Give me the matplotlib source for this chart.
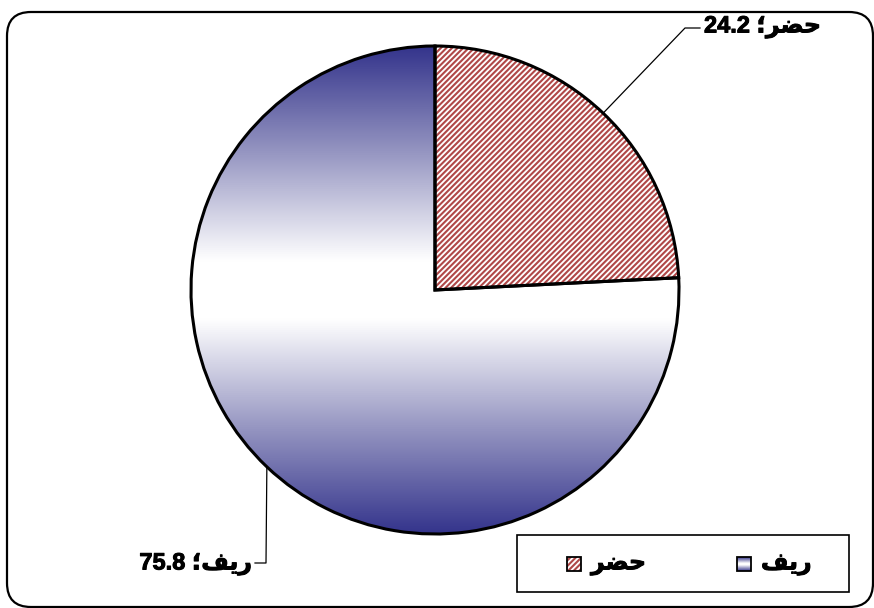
import numpy as np
import matplotlib.pyplot as plt
import matplotlib.patheffects as pe
from matplotlib.colors import LinearSegmentedColormap
from matplotlib.patches import FancyBboxPatch, Rectangle

# ------------------------
# Data
# ------------------------
categories = ["حضر", "ريف"]
values = [24.2, 75.8]
# Arabic shaped for display (presentation forms, visual order)
shaped = {"حضر": "\uFEAE\uFEC0\uFEA3", "ريف": "\uFED2\uFEF3\uFEAD"}

W, H = 874, 608
hatch_red = "#b04848"
navy = "#34348c"
fonts = ["Liberation Sans", "DejaVu Sans"]
plt.rcParams["hatch.linewidth"] = 1.5
heavy = [pe.withStroke(linewidth=0.7, foreground="black")]

fig = plt.figure(figsize=(W / 100, H / 100), dpi=100)
ax = fig.add_axes([0, 0, 1, 1])

cx, cy, r = 435, H - 290, 244

grad_cmap = LinearSegmentedColormap.from_list(
    "g", [(0.0, navy), (0.2, "#8e8ebd"), (0.44, "white"), (0.56, "white"),
          (0.8, "#8e8ebd"), (1.0, navy)])

# fills
wedges, _ = ax.pie(values, startangle=90, counterclock=False,
                   center=(cx, cy), radius=r,
                   colors=["white", "none"],
                   wedgeprops=dict(linewidth=0))
wedges[0].set_hatch("//////")
wedges[0].set_edgecolor(hatch_red)

grad = np.linspace(0, 1, 256).reshape(-1, 1)
im = ax.imshow(grad, cmap=grad_cmap, extent=(cx - r, cx + r, cy - r, cy + r),
               origin="upper", aspect="auto", zorder=1)
im.set_clip_path(wedges[1])

# outlines
outl, _ = ax.pie(values, startangle=90, counterclock=False,
                 center=(cx, cy), radius=r, colors=["none", "none"],
                 wedgeprops=dict(edgecolor="black", linewidth=2.2))
for w in outl:
    w.set_zorder(3)

# labels with leader lines
label_pos = [((685, 28), (700, 28), (704, 27), "left"),
             ((266, 563), (255, 563), (252, 564), "right")]
for w, cat, val, (bend, end, tpos, ha) in zip(wedges, categories, values, label_pos):
    ang = np.deg2rad((w.theta1 + w.theta2) / 2)
    sx, sy = cx + r * np.cos(ang), cy + r * np.sin(ang)
    ax.plot([sx, bend[0], end[0]], [sy, H - bend[1], H - end[1]],
            color="black", lw=0.9, zorder=4)
    ax.text(tpos[0], H - tpos[1], f"{val} \u061B{shaped[cat]}", ha=ha, va="center",
            fontsize=17, fontweight="bold", family=fonts, zorder=5,
            path_effects=heavy)

# legend box
ax.add_patch(Rectangle((517, H - 592), 332, 57, fill=False, edgecolor="black",
                       lw=1.2, zorder=5))
leg_x = {"حضر": 567, "ريف": 737}
for cat in categories:
    x0 = leg_x[cat]
    y0 = H - 571
    if cat == "حضر":
        ax.add_patch(Rectangle((x0, y0), 14, 14, facecolor="white",
                               edgecolor=hatch_red, hatch="//////", lw=0, zorder=5))
    else:
        ax.imshow(grad, cmap=grad_cmap, vmin=0, vmax=1,
                  extent=(x0, x0 + 14, y0, y0 + 14), aspect="auto", zorder=5)
    ax.add_patch(Rectangle((x0, y0), 14, 14, fill=False, edgecolor="black",
                           lw=1.3, zorder=6))
    ax.text(x0 + 24, y0 + 7, shaped[cat], ha="left", va="center",
            fontsize=17, fontweight="bold", family=fonts, zorder=6,
            path_effects=heavy)

# rounded outer border
ax.add_patch(FancyBboxPatch((7 + 24, H - 607 + 24), 866 - 48, 595 - 48,
                            boxstyle="round,pad=24", fill=False,
                            edgecolor="black", lw=1.6, zorder=7))

ax.set_xlim(0, W)
ax.set_ylim(0, H)
ax.set_aspect("auto")
ax.axis("off")

fig.savefig("out.png", dpi=100)
